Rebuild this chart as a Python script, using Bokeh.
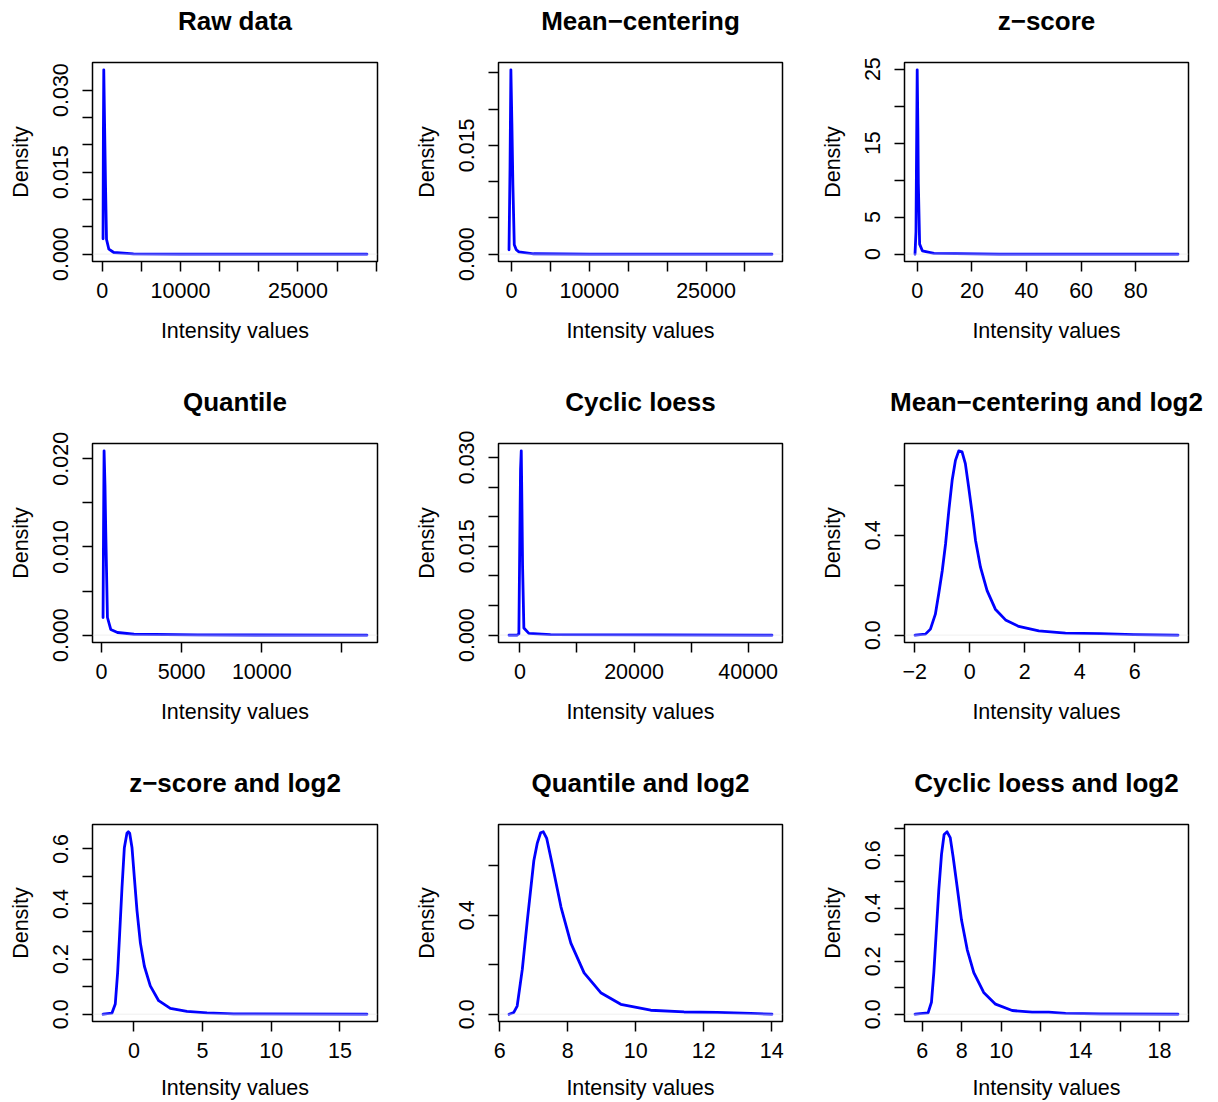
from bokeh.plotting import figure
from bokeh.layouts import gridplot
from bokeh.models import Range1d, FixedTicker, Span, Title
from bokeh.embed import file_html
from bokeh.resources import INLINE

FONT = "Liberation Sans"

titles = ["Raw data", "Mean\u2212centering", "z\u2212score",
          "Quantile", "Cyclic loess", "Mean\u2212centering and log2",
          "z\u2212score and log2", "Quantile and log2", "Cyclic loess and log2"]

# ---- density curves ----
raw_x = [108, 150, 200, 300, 420, 550, 850, 1480, 4000, 10000, 20000, 33810]
raw_y = [0.0028, 0.022, 0.0337, 0.024, 0.0128, 0.0027, 0.0009, 0.0003, 0.00005, 0.00001, 0.0, 0.0]

mc_x = [-330, -200, -90, 40, 167, 347, 600, 940, 2830, 10000, 33480]
mc_y = [0.0006, 0.012, 0.0254, 0.018, 0.0096, 0.0013, 0.0006, 0.0003, 0.00005, 0.00001, 0.0]

zs_x = [-0.85, -0.5, -0.3, -0.05, 0.2, 0.37, 0.84, 1.83, 6.1, 30, 95.5]
zs_y = [0.0, 3.0, 13.0, 24.9, 17.0, 9.5, 1.35, 0.45, 0.1, 0.01, 0.0]

qn_x = [100, 130, 164, 220, 268, 374, 580, 1000, 2030, 6000, 16560]
qn_y = [0.002, 0.012, 0.0209, 0.017, 0.0118, 0.002, 0.00064, 0.0003, 0.0001, 0.00002, 0.0]

cl_x = [-1900, -500, -175, 0, 120, 245, 360, 473, 700, 1576, 5380, 44170]
cl_y = [0.0, 0.0, 0.0002, 0.0173, 0.028, 0.0311, 0.022, 0.0118, 0.0012, 0.0003, 0.0001, 0.0]

mcl_x = [-1.99, -1.61, -1.43, -1.25, -1.13, -1.00, -0.88, -0.76, -0.64, -0.52, -0.40,
         -0.28, -0.16, -0.04, 0.09, 0.21, 0.39, 0.63, 0.93, 1.30, 1.78, 2.51, 3.48,
         4.75, 5.96, 7.57]
mcl_y = [0.0, 0.004, 0.024, 0.084, 0.165, 0.258, 0.365, 0.50, 0.62, 0.70, 0.738,
         0.734, 0.687, 0.593, 0.486, 0.379, 0.272, 0.178, 0.104, 0.061, 0.035, 0.017,
         0.008, 0.006, 0.002, 0.0]

zsl_x = [-2.25, -1.60, -1.36, -1.19, -1.04, -0.87, -0.70, -0.51, -0.41, -0.31, -0.14,
         0.03, 0.22, 0.47, 0.76, 1.19, 1.80, 2.65, 3.86, 5.32, 7.26, 16.97]
zsl_y = [0.0, 0.004, 0.037, 0.15, 0.293, 0.46, 0.604, 0.657, 0.662, 0.657, 0.604,
         0.496, 0.377, 0.258, 0.174, 0.103, 0.049, 0.021, 0.010, 0.005, 0.001, 0.0]

qnl_x = [6.27, 6.41, 6.51, 6.66, 6.81, 7.0, 7.1, 7.2, 7.28, 7.38, 7.54, 7.8, 8.09,
         8.48, 8.97, 9.56, 10.44, 11.42, 12.4, 13.38, 14.01]
qnl_y = [0.0, 0.007, 0.033, 0.18, 0.38, 0.62, 0.69, 0.733, 0.737, 0.71, 0.607, 0.433,
         0.287, 0.167, 0.087, 0.04, 0.016, 0.009, 0.007, 0.003, 0.0]

cll_x = [5.64, 6.30, 6.47, 6.59, 6.71, 6.84, 6.98, 7.11, 7.26, 7.42, 7.57, 7.77, 7.99,
         8.28, 8.61, 9.11, 9.71, 10.55, 11.56, 12.40, 13.25, 15.0, 18.93]
cll_y = [0.0, 0.005, 0.045, 0.157, 0.306, 0.467, 0.604, 0.678, 0.688, 0.666, 0.591,
         0.48, 0.355, 0.243, 0.157, 0.082, 0.038, 0.014, 0.0075, 0.0075, 0.003, 0.001, 0.0]

# ---- ticks: labelled (major) and unlabelled (minor) ----
raw_xt = [0, 10000, 25000]; raw_xl = ["0", "10000", "25000"]; raw_xm = [5000, 15000, 20000, 30000, 35000]
raw_yt = [0.0, 0.015, 0.03]; raw_yl = ["0.000", "0.015", "0.030"]; raw_ym = [0.005, 0.01, 0.02, 0.025]

mc_xt = [0, 10000, 25000]; mc_xl = ["0", "10000", "25000"]; mc_xm = [5000, 15000, 20000, 30000]
mc_yt = [0.0, 0.015]; mc_yl = ["0.000", "0.015"]; mc_ym = [0.005, 0.01, 0.02, 0.025]

zs_xt = [0, 20, 40, 60, 80]; zs_xl = ["0", "20", "40", "60", "80"]; zs_xm = []
zs_yt = [0, 5, 15, 25]; zs_yl = ["0", "5", "15", "25"]; zs_ym = [10, 20]

qn_xt = [0, 5000, 10000]; qn_xl = ["0", "5000", "10000"]; qn_xm = [15000]
qn_yt = [0.0, 0.01, 0.02]; qn_yl = ["0.000", "0.010", "0.020"]; qn_ym = [0.005, 0.015]

cl_xt = [0, 20000, 40000]; cl_xl = ["0", "20000", "40000"]; cl_xm = [10000, 30000]
cl_yt = [0.0, 0.015, 0.03]; cl_yl = ["0.000", "0.015", "0.030"]; cl_ym = [0.005, 0.01, 0.02, 0.025]

mcl_xt = [-2, 0, 2, 4, 6]; mcl_xl = ["\u22122", "0", "2", "4", "6"]; mcl_xm = []
mcl_yt = [0.0, 0.4]; mcl_yl = ["0.0", "0.4"]; mcl_ym = [0.2, 0.6]

zsl_xt = [0, 5, 10, 15]; zsl_xl = ["0", "5", "10", "15"]; zsl_xm = []
zsl_yt = [0.0, 0.2, 0.4, 0.6]; zsl_yl = ["0.0", "0.2", "0.4", "0.6"]; zsl_ym = [0.1, 0.3, 0.5]

qnl_xt = [6, 8, 10, 12, 14]; qnl_xl = ["6", "8", "10", "12", "14"]; qnl_xm = []
qnl_yt = [0.0, 0.4]; qnl_yl = ["0.0", "0.4"]; qnl_ym = [0.2, 0.6]

cll_xt = [6, 8, 10, 14, 18]; cll_xl = ["6", "8", "10", "14", "18"]; cll_xm = [12, 16]
cll_yt = [0.0, 0.2, 0.4, 0.6]; cll_yl = ["0.0", "0.2", "0.4", "0.6"]; cll_ym = [0.1, 0.3, 0.5, 0.7]

panels = [
    (raw_x, raw_y, raw_xt, raw_xl, raw_xm, raw_yt, raw_yl, raw_ym),
    (mc_x, mc_y, mc_xt, mc_xl, mc_xm, mc_yt, mc_yl, mc_ym),
    (zs_x, zs_y, zs_xt, zs_xl, zs_xm, zs_yt, zs_yl, zs_ym),
    (qn_x, qn_y, qn_xt, qn_xl, qn_xm, qn_yt, qn_yl, qn_ym),
    (cl_x, cl_y, cl_xt, cl_xl, cl_xm, cl_yt, cl_yl, cl_ym),
    (mcl_x, mcl_y, mcl_xt, mcl_xl, mcl_xm, mcl_yt, mcl_yl, mcl_ym),
    (zsl_x, zsl_y, zsl_xt, zsl_xl, zsl_xm, zsl_yt, zsl_yl, zsl_ym),
    (qnl_x, qnl_y, qnl_xt, qnl_xl, qnl_xm, qnl_yt, qnl_yl, qnl_ym),
    (cll_x, cll_y, cll_xt, cll_xl, cll_xm, cll_yt, cll_yl, cll_ym),
]

col_w = [406, 406, 406]
col_l = [92, 92, 92]
col_r = [29, 30, 30]
row_h = [381, 381, 340]
row_t = [62, 62, 62]
row_b = [120, 120, 79]

TICK = "21.5px"


def make(i):
    xs, ys, xt, xl, xm, yt, yl, ym = panels[i]
    r, c = divmod(i, 3)
    xr = max(xs) - min(xs)
    yr = max(ys) - min(ys)
    x0, x1 = min(xs) - 0.04 * xr, max(xs) + 0.04 * xr
    y0, y1 = min(ys) - 0.04 * yr, max(ys) + 0.04 * yr
    p = figure(width=col_w[c], height=row_h[r], output_backend="svg", toolbar_location=None,
               x_range=Range1d(x0, x1), y_range=Range1d(y0, y1),
               min_border_left=col_l[c], min_border_right=col_r[c],
               min_border_top=row_t[r], min_border_bottom=row_b[r],
               title=None)
    # small gap panel between frame and title, then the bold title itself
    p.add_layout(Title(text=" ", text_font_size="2px", standoff=23), "above")
    p.add_layout(Title(text=titles[i], align="center", standoff=0,
                       text_font=FONT, text_font_size="26px", text_font_style="bold",
                       text_color="black"), "above")
    p.outline_line_color = "black"
    p.outline_line_width = 1.5
    p.outline_line_alpha = 1.0
    p.xgrid.visible = False
    p.ygrid.visible = False
    p.background_fill_color = "white"
    p.border_fill_color = "white"

    p.add_layout(Span(location=0, dimension="width", line_color="#e6e6e6", line_width=0.6))
    p.line(xs, ys, line_color="#0000ff", line_width=2.8, line_join="round", line_cap="round")

    for ax, ticks, labels, minor in ((p.xaxis[0], xt, xl, xm), (p.yaxis[0], yt, yl, ym)):
        ax.ticker = FixedTicker(ticks=ticks, minor_ticks=minor)
        ax.major_label_overrides = {t: s for t, s in zip(ticks, labels)}
        ax.axis_line_color = None
        ax.major_tick_in = 0
        ax.major_tick_out = 10
        ax.minor_tick_in = 0
        ax.minor_tick_out = 10
        ax.major_tick_line_width = 1.5
        ax.minor_tick_line_width = 1.5
        ax.major_tick_line_color = "black"
        ax.minor_tick_line_color = "black"
        ax.major_label_text_font = FONT
        ax.major_label_text_font_size = TICK
        ax.major_label_text_color = "black"
        ax.axis_label_text_font = FONT
        ax.axis_label_text_font_size = TICK
        ax.axis_label_text_font_style = "normal"
        ax.axis_label_text_color = "black"

    p.xaxis.axis_label = "Intensity values"
    p.yaxis.axis_label = "Density"
    p.yaxis.major_label_orientation = "vertical"
    p.yaxis.major_label_standoff = 14
    p.yaxis.axis_label_standoff = 18
    p.xaxis.major_label_standoff = 11
    p.xaxis.axis_label_standoff = 18 if r < 2 else 15
    return p


figs = [make(i) for i in range(9)]
grid = gridplot([figs[0:3], figs[3:6], figs[6:9]], toolbar_location=None)

open("out.html", "w").write(file_html(grid, INLINE))
